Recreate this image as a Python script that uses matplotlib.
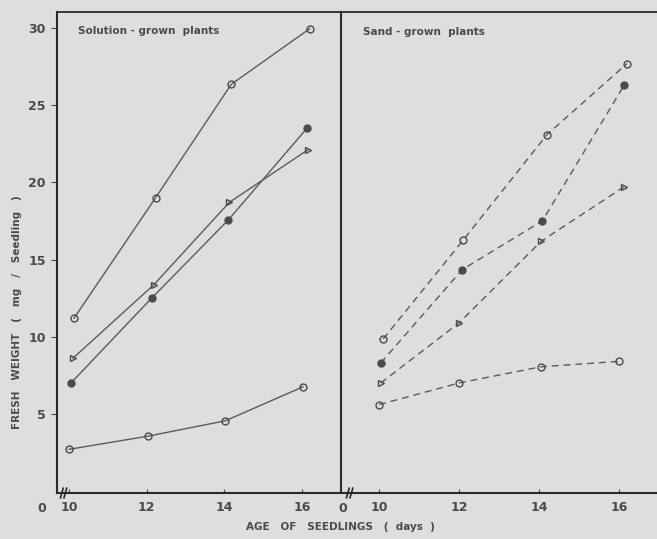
#!/usr/bin/env python3
"""Fresh weight of seedlings grown in solution vs sand, four treatments each."""
import matplotlib
matplotlib.use("Agg")
import matplotlib.pyplot as plt

# ages as they sit on the (slightly skewed) scan
solution_days_a = [10.13, 12.23, 14.18, 16.2]
solution_days_b = [10.05, 12.13, 14.1, 16.13]
solution_days_c = [10.1, 12.18, 14.13, 16.15]
solution_days_d = [10.0, 12.03, 14.03, 16.03]
solution_open_hi = [11.2, 19.0, 26.35, 29.95]
solution_filled = [7.0, 12.5, 17.55, 23.5]
solution_triangle = [8.6, 13.35, 18.7, 22.1]
solution_open_lo = [2.7, 3.55, 4.55, 6.75]

sand_days_a = [10.1, 12.1, 14.2, 16.2]
sand_days_b = [10.04, 12.08, 14.08, 16.13]
sand_days_c = [10.04, 12.0, 14.06, 16.12]
sand_days_d = [10.0, 12.0, 14.05, 16.0]
sand_open_hi = [9.85, 16.25, 23.1, 27.7]
sand_filled = [8.3, 14.35, 17.5, 26.3]
sand_triangle = [7.0, 10.9, 16.2, 19.7]
sand_open_lo = [5.6, 7.0, 8.05, 8.4]

x_ticks = [10, 12, 14, 16]
y_ticks = [5, 10, 15, 20, 25, 30]

BG = "#dedede"
INK = "#4a4a4a"
plt.rcParams.update({"font.family": "DejaVu Sans", "font.weight": "bold",
                     "text.color": INK, "axes.edgecolor": "#2a2a2a",
                     "xtick.color": INK, "ytick.color": INK})

fig = plt.figure(figsize=(6.57, 5.39), dpi=100, facecolor=BG)
ax1 = fig.add_axes([57 / 657, 1 - 493 / 539, 284 / 657, 481 / 539])
ax2 = fig.add_axes([341 / 657, 1 - 493 / 539, 318 / 657, 481 / 539])

panels = [
    (ax1, "-", [(solution_days_a, solution_open_hi, "o", "none"),
                (solution_days_b, solution_filled, "o", INK),
                (solution_days_c, solution_triangle, ">", "none"),
                (solution_days_d, solution_open_lo, "o", "none")]),
    (ax2, (0, (5, 3.5)), [(sand_days_a, sand_open_hi, "o", "none"),
                          (sand_days_b, sand_filled, "o", INK),
                          (sand_days_c, sand_triangle, ">", "none"),
                          (sand_days_d, sand_open_lo, "o", "none")]),
]
for ax, ls, series in panels:
    ax.set_facecolor(BG)
    for xs, ys, marker, fill in series:
        ax.plot(xs, ys, color="#5a5a5a", lw=1.0, ls=ls, marker=marker,
                markersize=5, markerfacecolor=fill, markeredgecolor=INK,
                markeredgewidth=1.0, clip_on=False)
    ax.set_ylim(-0.13, 31.04)
    ax.set_xticks(x_ticks)
    ax.set_xticklabels([str(t) for t in x_ticks], fontsize=9)
    ax.tick_params(axis="x", direction="in", length=3, pad=6)
    ax.spines["top"].set_linewidth(1.3)
    ax.spines["bottom"].set_linewidth(1.5)
    ax.spines["left"].set_linewidth(1.5)

ax1.set_xlim(9.69, 17.01)
ax2.set_xlim(9.045, 17.0)
ax1.spines["right"].set_visible(False)
ax2.spines["right"].set_visible(False)

ax1.set_yticks(y_ticks)
ax1.set_yticklabels([str(t) for t in y_ticks], fontsize=9)
ax1.tick_params(axis="y", direction="out", length=4, pad=4)
ax2.set_yticks([])

# origin labels and axis-break marks
ax1.text(9.3, -0.033, "0", fontsize=9, ha="center", va="center",
         transform=ax1.get_xaxis_transform(), clip_on=False)
ax2.text(9.1, -0.033, "0", fontsize=9, ha="center", va="center",
         transform=ax2.get_xaxis_transform(), clip_on=False)
for ax, x0 in [(ax1, 9.78), (ax2, 9.18)]:
    for dx in (0.0, 0.09):
        ax.plot([x0 + dx, x0 + dx + 0.07], [-0.01, 0.01], color="#2a2a2a",
                lw=1.2, transform=ax.get_xaxis_transform(), clip_on=False)

ax1.text(0.075, 0.96, "Solution - grown  plants", fontsize=7.5,
         transform=ax1.transAxes, va="center")
ax2.text(0.07, 0.958, "Sand - grown  plants", fontsize=7.5,
         transform=ax2.transAxes, va="center")

fig.text(17 / 657, 1 - 312 / 539, "FRESH   WEIGHT   (   mg   /   Seedling   )",
         rotation=90, fontsize=7.5, ha="center", va="center")
fig.text(340 / 657, 1 - 527 / 539, "AGE   OF   SEEDLINGS   (  days  )",
         fontsize=7.5, ha="center", va="center")

fig.savefig("out.png", dpi=100, facecolor=BG)
